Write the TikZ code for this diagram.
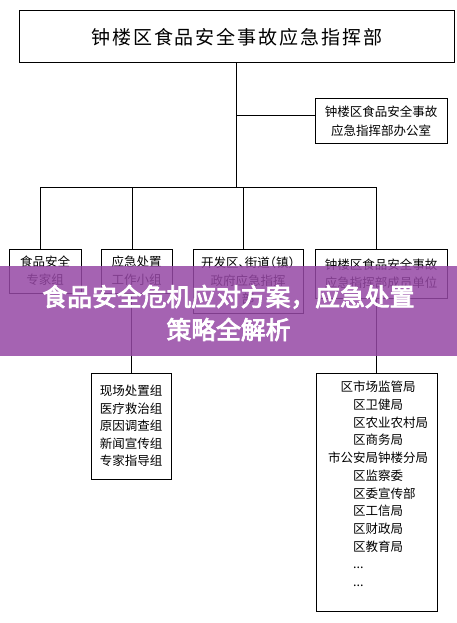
\documentclass[tikz,border=0pt]{standalone}
\usepackage{fontspec}
\setmainfont{Noto Sans CJK SC}
\newfontfamily\widecjk{Noto Sans CJK SC}[LetterSpace=10]
\newfontfamily\bannerfont{Noto Sans CJK SC}[FakeBold=3.5]
\usepackage{tikz}

\definecolor{bannerpurple}{RGB}{150,72,165}

\begin{document}
\begin{tikzpicture}[x=1pt, y=-1pt,
    box/.style={draw, line width=1pt, inner sep=0pt, align=center,
        font=\fontsize{12.5}{18}\selectfont},
    link/.style={line width=1pt}]
    \useasboundingbox (0,0) rectangle (457,623);
    \fill[white] (0,0) rectangle (457,623);

    % Command and office
    \node[box, minimum width=434.5, minimum height=52.5, font=\widecjk\fontsize{19}{22}\selectfont]
        (top) at (236.75,36.75) {钟楼区食品安全事故应急指挥部};
    \node[box, minimum width=132, minimum height=44, font=\fontsize{12.5}{19}\selectfont]
        (office) at (381,121) {钟楼区食品安全事故\\应急指挥部办公室};

    % Second row
    \node[box, minimum width=72, minimum height=44] (g1) at (45,271) {食品安全\\专家组};
    \node[box, minimum width=71, minimum height=44] (g2) at (136.5,271) {应急处置\\工作小组};
    \node[box, minimum width=110, minimum height=64] (g3) at (248,281)
        {{\addfontfeature{RawFeature=+halt}开发区、街道（镇）}\\政府应急指挥\\部};
    \node[box, minimum width=132, minimum height=49] (g4) at (381,273.5)
        {钟楼区食品安全事故\\应急指挥部成员单位};

    % Third row
    \node[box, minimum width=80, minimum height=106, font=\fontsize{12.5}{17.6}\selectfont]
        (grp) at (131,426) {现场处置组\\医疗救治组\\原因调查组\\新闻宣传组\\专家指导组};
    \node[box, minimum width=121, minimum height=238] (units) at (376.5,492) {};
    \node[anchor=north west, inner sep=0pt, align=left, font=\fontsize{12.5}{17.7}\selectfont]
        (unitlist) at (328,381) {\hspace*{1em}区市场监管局\\
        \hspace*{2em}区卫健局\\
        \hspace*{2em}区农业农村局\\
        \hspace*{2em}区商务局\\
        市公安局钟楼分局\\
        \hspace*{2em}区监察委\\
        \hspace*{2em}区委宣传部\\
        \hspace*{2em}区工信局\\
        \hspace*{2em}区财政局\\
        \hspace*{2em}区教育局\\
        \hspace*{2em}...\\
        \hspace*{2em}...};

    % Connectors
    \coordinate (bus) at (0,187);
    \coordinate (branch) at ([yshift=5pt]office.west);
    \draw[link] (top.south) -- (top.south |- bus);
    \draw[link] (branch) -- (top.south |- branch);
    \draw[link] ([xshift=-4.5pt]g1.north |- bus) -- ([xshift=-4.5pt]g4.north |- bus);
    \foreach \g in {g1,g2,g3,g4}
        \draw[link] ([xshift=-4.5pt]\g.north) -- ([xshift=-4.5pt]\g.north |- bus);
    \draw[link] (grp.north) -- (grp.north |- g2.south);
    \draw[link] (units.north) -- (units.north |- g4.south);

    % Banner
    \fill[bannerpurple, opacity=0.85] (0,265.5) rectangle (457,355.5);
    \node[text=white, align=center, font=\bannerfont\fontsize{24.8}{33}\selectfont]
        (title) at (228.5,313) {食品安全危机应对方案，应急处置\\策略全解析};
\end{tikzpicture}
\end{document}
